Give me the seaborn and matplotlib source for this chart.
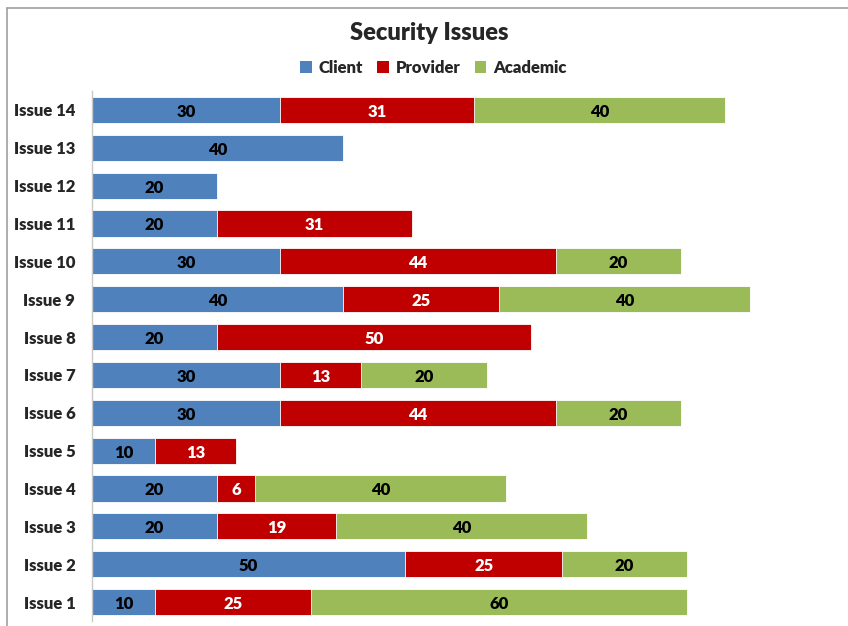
import numpy as np
import pandas as pd
import matplotlib
matplotlib.use("Agg")
import matplotlib.pyplot as plt
from matplotlib.lines import Line2D
from matplotlib.patches import Patch
import seaborn as sns

# Security issue counts by respondent group
issues = [f"Issue {i}" for i in range(1, 15)]
client = [10, 50, 20, 20, 10, 30, 30, 20, 40, 30, 20, 20, 40, 30]
provider = [25, 25, 19, 6, 13, 44, 13, 50, 25, 44, 31, 0, 0, 31]
academic = [60, 20, 40, 40, 0, 20, 20, 0, 40, 20, 0, 0, 0, 40]

series = ["Client", "Provider", "Academic"]
colors = {"Client": "#4F81BD", "Provider": "#C00000", "Academic": "#9BBB59"}
text_colors = {"Client": "black", "Provider": "white", "Academic": "black"}

sns.set_style("white")
plt.rcParams["font.family"] = ["Lato", "DejaVu Sans"]
WEIGHT = "heavy"

df = pd.DataFrame({"issue": issues, "Client": client,
                   "Provider": provider, "Academic": academic})
df["c1"] = df["Client"]
df["c2"] = df["Client"] + df["Provider"]
df["c3"] = df["c2"] + df["Academic"]

order = issues[::-1]

fig = plt.figure(figsize=(8.48, 6.26), dpi=100)
ax = fig.add_axes([92 / 848, 5 / 626, 752 / 848, 530 / 626])

# cumulative totals drawn back to front give the stacked segments
for col, name in [("c3", "Academic"), ("c2", "Provider"), ("c1", "Client")]:
    sns.barplot(data=df, y="issue", x=col, order=order, orient="h",
                color=colors[name], saturation=1, width=0.69,
                edgecolor="white", linewidth=0.6, ax=ax)

# segment value labels
for i, iss in enumerate(order):
    row = df[df["issue"] == iss].iloc[0]
    start = 0
    for name in series:
        v = row[name]
        if v > 0:
            ax.text(start + v / 2, i + 0.05, f"{v}", ha="center", va="center",
                    fontsize=12, fontweight=WEIGHT, color=text_colors[name])
        start += v

ax.set_xlim(0, 120)
ax.set_ylim(len(order) - 0.5, -0.5)
ax.set_xlabel("")
ax.set_ylabel("")
ax.set_xticks([])
ax.tick_params(axis="y", length=0, pad=12, labelsize=12)
for lab in ax.get_yticklabels():
    lab.set_fontweight(WEIGHT)
for s in ["top", "right", "bottom"]:
    ax.spines[s].set_visible(False)
ax.spines["left"].set_color("#C8C8C8")
ax.spines["left"].set_linewidth(1)

fig.text(0.506, 1 - 33 / 626, "Security Issues", ha="center", va="center",
         fontsize=17, fontweight=WEIGHT)

handles = [Patch(facecolor=colors[n], edgecolor="none", label=n) for n in series]
fig.legend(handles=handles, loc="center", bbox_to_anchor=(0.511, 0.892), ncol=3,
           frameon=False, handlelength=0.7, handleheight=0.7,
           handletextpad=0.4, columnspacing=0.85, prop={"weight": WEIGHT, "size": 12})

# chart area frame
fig.add_artist(Line2D([7 / 848, 1], [1 - 8 / 626, 1 - 8 / 626], color="#A0A0A0", lw=1.2))
fig.add_artist(Line2D([7 / 848, 7 / 848], [0, 1 - 8 / 626], color="#A0A0A0", lw=1.2))

fig.savefig("out.png", dpi=100)
